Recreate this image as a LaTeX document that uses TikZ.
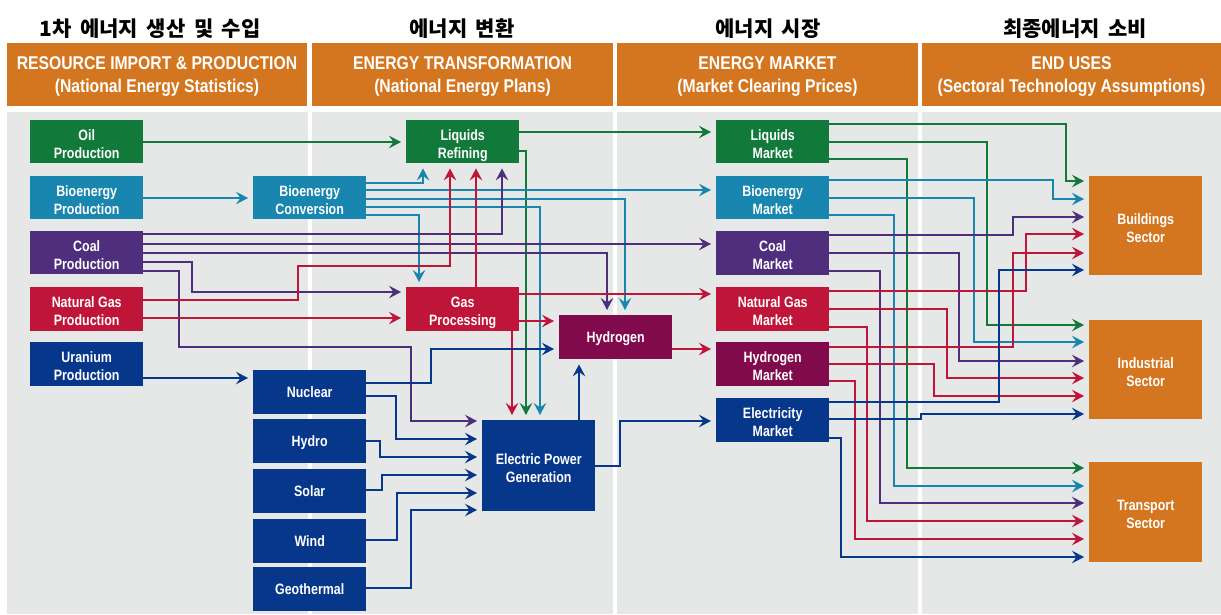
\documentclass[tikz,border=0pt]{standalone}
\usepackage{fontspec}
\setmainfont{Liberation Sans}
\newfontfamily\cond{Liberation Sans}[FakeStretch=0.85]
\newfontfamily\condb{Liberation Sans}[FakeStretch=0.83]
\newfontfamily\kr{Noto Sans CJK KR}[WordSpace=1.8]
\usetikzlibrary{arrows.meta}
\definecolor{cG}{HTML}{117A3B}
\definecolor{cT}{HTML}{1886AE}
\definecolor{cP}{HTML}{4E2E7D}
\definecolor{cR}{HTML}{BF1538}
\definecolor{cN}{HTML}{07378B}
\definecolor{cM}{HTML}{800A4B}
\definecolor{cO}{HTML}{D4761F}
\definecolor{cBG}{HTML}{E6E7E7}
\newcommand\twol[2]{\rule{0pt}{19pt}#1\\#2\rule[-4pt]{0pt}{4pt}}
\tikzset{
  box/.style={draw=none, inner sep=0pt, anchor=north west, minimum width=113pt,
    minimum height=44pt, text=white, align=center,
    font=\condb\bfseries\fontsize{15}{18}\selectfont},
  one/.style={text depth=0pt},
  hdr/.style={fill=cO, draw=none, inner sep=0pt, minimum height=63pt},
  hdrtxt/.style={text=white, align=center, inner sep=0pt,
    font=\cond\bfseries\fontsize{18.5}{23}\selectfont},
  krt/.style={text=black, inner sep=0pt, font=\kr\bfseries\fontsize{21}{24}\selectfont},
  ar/.style={line width=1.4pt, -{Stealth[length=12pt,width=12.5pt,inset=4.5pt]}, shorten >=5pt},
}
\begin{document}
\begin{tikzpicture}[x=1pt,y=-1pt]
\useasboundingbox (0,0) rectangle (1221,614);
\fill[white] (0,0) rectangle (1221,614);
% panels
\fill[cBG] (7,112) rectangle (308,614);
\fill[cBG] (312,112) rectangle (613,614);
\fill[cBG] (617,112) rectangle (918,614);
\fill[cBG] (922,112) rectangle (1221,614);
% Korean titles
\node[krt] (k1) at (150,29) {1차 에너지 생산 및 수입};
\node[krt] (k2) at (462,29) {에너지 변환};
\node[krt] (k3) at (768,29) {에너지 시장};
\node[krt] (k4) at (1075,29) {최종에너지 소비};
% headers
\node[hdr, minimum width=300pt] (hd1) at (157,74.5) {};
\node[hdr, minimum width=301pt] (hd2) at (462.5,74.5) {};
\node[hdr, minimum width=301pt] (hd3) at (767.5,74.5) {};
\node[hdr, minimum width=299pt] (hd4) at (1071.5,74.5) {};
\node[hdrtxt] (hd1t) at (157,76.5) {RESOURCE IMPORT \& PRODUCTION\\(National Energy Statistics)};
\node[hdrtxt] (hd2t) at (462.5,76.5) {ENERGY TRANSFORMATION\\(National Energy Plans)};
\node[hdrtxt] (hd3t) at (767.5,76.5) {ENERGY MARKET\\(Market Clearing Prices)};
\node[hdrtxt] (hd4t) at (1071.5,76.5) {END USES\\(Sectoral Technology Assumptions)};
% column 1
\node[box, fill=cG, minimum height=43pt] (oilp) at (30,120) {\twol{Oil}{Production}};
\node[box, fill=cT, minimum height=43pt] (biop) at (30,176) {\twol{Bioenergy}{Production}};
\node[box, fill=cP, minimum height=43pt] (coalp) at (30,231) {\twol{Coal}{Production}};
\node[box, fill=cR] (ngp) at (30,287) {\twol{Natural Gas}{Production}};
\node[box, fill=cN] (urp) at (30,342) {\twol{Uranium}{Production}};
% column 2
\node[box, fill=cT, minimum height=43pt] (bioc) at (253,176) {\twol{Bioenergy}{Conversion}};
\node[box, one, fill=cN] (nuc) at (253,370) {Nuclear};
\node[box, one, fill=cN] (hyd) at (253,419) {Hydro};
\node[box, one, fill=cN] (sol) at (253,469) {Solar};
\node[box, one, fill=cN] (wind) at (253,519) {Wind};
\node[box, one, fill=cN] (geo) at (253,567) {Geothermal};
\node[box, fill=cG, minimum height=43pt] (liqr) at (406,120) {\twol{Liquids}{Refining}};
\node[box, fill=cR] (gasp) at (406,287) {\twol{Gas}{Processing}};
\node[box, one, fill=cM] (h2) at (559,315) {Hydrogen};
\node[box, fill=cN, minimum height=91pt] (epg) at (482,420) {\twol{Electric Power}{Generation}};
% column 3
\node[box, fill=cG, minimum height=43pt] (lqm) at (716,120) {\twol{Liquids}{Market}};
\node[box, fill=cT, minimum height=43pt] (bim) at (716,176) {\twol{Bioenergy}{Market}};
\node[box, fill=cP] (clm) at (716,231) {\twol{Coal}{Market}};
\node[box, fill=cR] (ngm) at (716,287) {\twol{Natural Gas}{Market}};
\node[box, fill=cM] (h2m) at (716,342) {\twol{Hydrogen}{Market}};
\node[box, fill=cN] (elm) at (716,398) {\twol{Electricity}{Market}};
% column 4
\node[box, fill=cO, minimum height=99pt] (bld) at (1089,176) {\twol{Buildings}{Sector}};
\node[box, fill=cO, minimum height=99pt] (ind) at (1089,320) {\twol{Industrial}{Sector}};
\node[box, fill=cO, minimum height=100pt] (trn) at (1089,462) {\twol{Transport}{Sector}};
% ---------- green
\draw[ar, cG] (oilp.east |- 0,142) -- (liqr.west |- 0,142);
\draw[ar, cG] (liqr.east |- 0,132) -- (lqm.west |- 0,132);
\draw[ar, cG] (liqr.east |- 0,151) -| (epg.north -| 526,0);
\draw[ar, cG] (lqm.east |- 0,124) -| (1066,181) -- (bld.west |- 0,181);
\draw[ar, cG] (lqm.east |- 0,142) -| (987,325) -- (ind.west |- 0,325);
\draw[ar, cG] (lqm.east |- 0,159) -| (907,468) -- (trn.west |- 0,468);
% ---------- teal
\draw[ar, cT] (biop.east |- 0,198) -- (bioc.west |- 0,198);
\draw[ar, cT] (bioc.east |- 0,183) -| (liqr.south -| 423,0);
\draw[ar, cT] (bioc.east |- 0,190) -- (bim.west |- 0,190);
\draw[ar, cT] (bioc.east |- 0,199) -| (h2.north -| 625,0);
\draw[ar, cT] (bioc.east |- 0,207) -| (epg.north -| 540,0);
\draw[ar, cT] (bioc.east |- 0,215) -| (gasp.north -| 419,0);
\draw[ar, cT] (bim.east |- 0,180) -| (1053,199) -- (bld.west |- 0,199);
\draw[ar, cT] (bim.east |- 0,198) -| (974,342) -- (ind.west |- 0,342);
\draw[ar, cT] (bim.east |- 0,215) -| (894,486) -- (trn.west |- 0,486);
% ---------- purple
\draw[ar, cP] (coalp.east |- 0,234) -| (liqr.south -| 502,0);
\draw[ar, cP] (coalp.east |- 0,244) -- (clm.west |- 0,244);
\draw[ar, cP] (coalp.east |- 0,253) -| (h2.north -| 607,0);
\draw[ar, cP] (coalp.east |- 0,262) -| (192,292) -- (gasp.west |- 0,292);
\draw[ar, cP] (coalp.east |- 0,271) -| (179,347) -| (411,421) -- (epg.west |- 0,421);
\draw[ar, cP] (clm.east |- 0,235) -| (1013,217) -- (bld.west |- 0,217);
\draw[ar, cP] (clm.east |- 0,253) -| (959,361) -- (ind.west |- 0,361);
\draw[ar, cP] (clm.east |- 0,271) -| (880,503) -- (trn.west |- 0,503);
% ---------- red
\draw[ar, cR] (ngp.east |- 0,300) -| (298,266) -| (liqr.south -| 450,0);
\draw[ar, cR] (ngp.east |- 0,318) -- (gasp.west |- 0,318);
\draw[ar, cR] (gasp.north -| 476,0) -- (liqr.south -| 476,0);
\draw[ar, cR] (gasp.east |- 0,294) -- (ngm.west |- 0,294);
\draw[ar, cR] (gasp.east |- 0,321) -- (h2.west |- 0,321);
\draw[ar, cR] (gasp.south -| 512,0) -- (epg.north -| 512,0);
\draw[ar, cR] (h2.east |- 0,349) -- (h2m.west |- 0,349);
\draw[ar, cR] (ngm.east |- 0,291) -| (1026,234) -- (bld.west |- 0,234);
\draw[ar, cR] (ngm.east |- 0,309) -| (947,378) -- (ind.west |- 0,378);
\draw[ar, cR] (ngm.east |- 0,327) -| (867,521) -- (trn.west |- 0,521);
\draw[ar, cR] (h2m.east |- 0,347) -| (1013,253) -- (bld.west |- 0,253);
\draw[ar, cR] (h2m.east |- 0,364) -| (934,396) -- (ind.west |- 0,396);
\draw[ar, cR] (h2m.east |- 0,381) -| (855,539) -- (trn.west |- 0,539);
% ---------- navy
\draw[ar, cN] (urp.east |- 0,378) -- (nuc.west |- 0,378);
\draw[ar, cN] (nuc.east |- 0,383) -| (431,349) -- (h2.west |- 0,349);
\draw[ar, cN] (nuc.east |- 0,396) -| (396,439) -- (epg.west |- 0,439);
\draw[ar, cN] (hyd.east |- 0,441) -| (380,457) -- (epg.west |- 0,457);
\draw[ar, cN] (sol.east |- 0,490) -| (382,475) -- (epg.west |- 0,475);
\draw[ar, cN] (wind.east |- 0,540) -| (397,493) -- (epg.west |- 0,493);
\draw[ar, cN] (geo.east |- 0,588) -| (411,510) -- (epg.west |- 0,510);
\draw[ar, cN] (epg.north -| 579,0) -- (h2.south -| 579,0);
\draw[ar, cN] (epg.east |- 0,466) -| (620,421) -- (elm.west |- 0,421);
\draw[ar, cN] (elm.east |- 0,402) -| (999,270) -- (bld.west |- 0,270);
\draw[ar, cN] (elm.east |- 0,419) -| (921,414) -- (ind.west |- 0,414);
\draw[ar, cN] (elm.east |- 0,438) -| (841,557) -- (trn.west |- 0,557);
\end{tikzpicture}
\end{document}
